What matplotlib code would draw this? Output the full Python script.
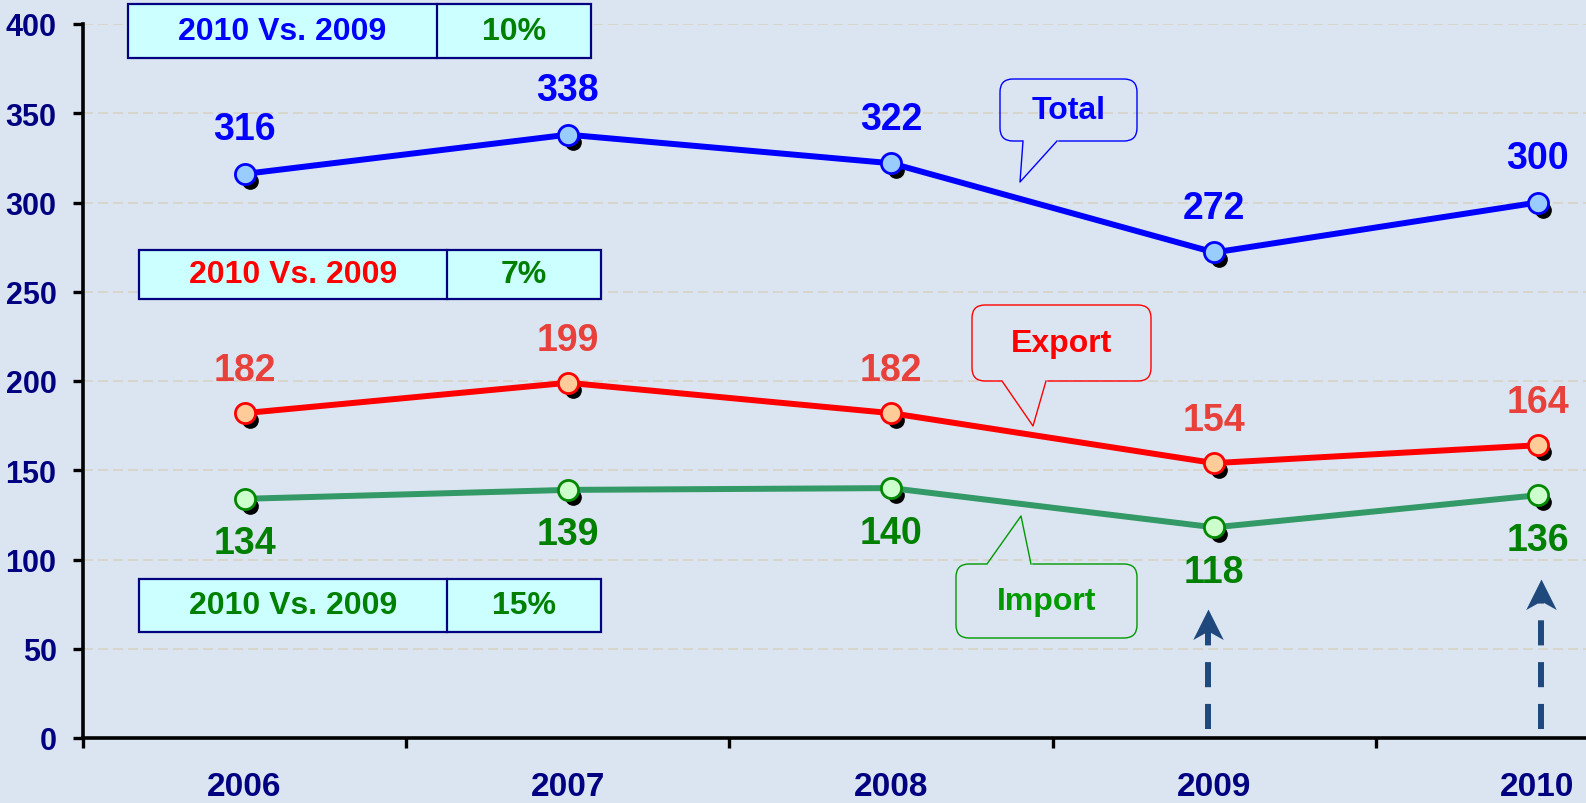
import numpy as np
import matplotlib
matplotlib.use("Agg")
import matplotlib.pyplot as plt
from matplotlib.patches import FancyBboxPatch, Rectangle
from matplotlib.lines import Line2D
from matplotlib.path import Path
import matplotlib.transforms as mtransforms

plt.rcParams['font.family'] = ['Liberation Sans', 'DejaVu Sans']

# data
years = ['2006', '2007', '2008', '2009', '2010']
total = [316, 338, 322, 272, 300]
export = [182, 199, 182, 154, 164]
imports = [134, 139, 140, 118, 136]
changes = [('2010 Vs. 2009', '10%'), ('2010 Vs. 2009', '7%'), ('2010 Vs. 2009', '15%')]

W, H = 1586, 804
bg = '#DBE5F1'
navy = '#000080'

fig = plt.figure(figsize=(W / 100, H / 100), dpi=100, facecolor=bg)
ax = fig.add_axes([83 / W, 1 - 739 / H, 1 - 83 / W, (739 - 25) / H])
ax.set_facecolor(bg)

x = np.arange(len(years))
ax.set_xlim(-0.5, 4.15)
ax.set_ylim(0, 400)

# grid
for v in range(50, 401, 50):
    ax.axhline(v, color='#D8D2C6', lw=1.2, ls=(0, (6, 3)), zorder=0)

series = [
    (total, '#0000FF', '#99CCFF', '#0000FF', '#0000FF', 32),
    (export, '#FF0000', '#FFCC99', '#FF0000', '#E8403A', 31),
    (imports, '#339966', '#CCFFCC', '#008800', '#008000', -32),
]
shadow = mtransforms.offset_copy(ax.transData, fig=fig, x=5, y=-7, units='dots')
for vals, lc, fc, ec, tc, off in series:
    ax.plot(x, vals, 'o', color='black', ms=11, transform=shadow, zorder=2)
    ax.plot(x, vals, '-', color=lc, lw=4.3, zorder=3)
    ax.plot(x, vals, 'o', ms=14.5, mfc=fc, mec=ec, mew=2.0, zorder=4, ls='none')
    for xi, v in zip(x, vals):
        ax.annotate(str(v), (xi, v), xytext=(0, off), textcoords='offset points',
                    ha='center', va='center', fontsize=27, fontweight='bold', color=tc,
                    zorder=5)

# axes styling
for s in ['top', 'right']:
    ax.spines[s].set_visible(False)
for s in ['left', 'bottom']:
    ax.spines[s].set_linewidth(2.6)
    ax.spines[s].set_color('black')
ax.set_yticks(range(0, 401, 50))
ax.tick_params(axis='y', direction='out', length=7, width=2.4, pad=12,
               labelsize=22, labelcolor=navy)
ax.set_xticks(np.arange(-0.5, 4.0, 1.0))
ax.set_xticklabels([])
ax.tick_params(axis='x', which='major', direction='out', length=7, width=2.4)
ax.set_xticks(x, minor=True)
ax.set_xticklabels(years, minor=True)
ax.tick_params(axis='x', which='minor', length=0, pad=24, labelsize=24, labelcolor=navy)
for lab in ax.get_yticklabels() + ax.get_xticklabels(minor=True):
    lab.set_fontweight('bold')

# dashed arrows with notched heads
head = Path([(0, 0), (0.5, -1), (0, -0.72), (-0.5, -1), (0, 0)],
            [Path.MOVETO, Path.LINETO, Path.LINETO, Path.LINETO, Path.CLOSEPOLY])
for xa, ytip in [(2.98, 72), (4.01, 89)]:
    ax.plot([xa, xa], [5, ytip - 12], color='#1F497D', lw=4.3,
            ls=(0, (4.2, 2.8)), solid_capstyle='butt', dash_capstyle='butt', zorder=6)
    ax.plot([xa], [ytip], marker=head, ms=44, color='#1F497D', mec='#1F497D', mew=0,
            zorder=6)

# pixel-based overlay (y from top), isotropic inches transform
T = fig.dpi_scale_trans
def P(px, py):
    return (px / 100, (H - py) / 100)

# comparison tables
tables = [
    (128, 5, 591, 59, 437, '#0000FF'),
    (139, 251, 601, 300, 447, '#FF0000'),
    (139, 580, 601, 633, 447, '#008000'),
]
for (x0, y0, x1, y1, xd, c1), (lab, pct) in zip(tables, changes):
    ll = P(x0, y1)
    fig.patches.append(Rectangle(ll, (x1 - x0) / 100, (y1 - y0) / 100, transform=T,
                                 facecolor='#CCFFFF', edgecolor=navy, lw=1.6))
    fig.lines.append(Line2D(*zip(P(xd, y0), P(xd, y1)), transform=T, color=navy, lw=1.6))
    ym = (y0 + y1) / 2
    fig.text(*P((x0 + xd) / 2, ym), lab, transform=T, ha='center', va='center',
             fontsize=23, fontweight='bold', color=c1)
    fig.text(*P((xd + x1) / 2, ym), pct, transform=T, ha='center', va='center',
             fontsize=23, fontweight='bold', color='#008000')

# callouts: box, tail base on edge, tip
callouts = [
    ('Total', '#0000FF', (1000, 80, 1137, 142), (1023, 1057, 142), (1020, 183)),
    ('Export', '#FF0000', (972, 306, 1151, 382), (1002, 1046, 382), (1033, 427)),
    ('Import', '#009900', (956, 565, 1137, 639), (987, 1031, 565), (1021, 517)),
]
for name, col, (x0, y0, x1, y1), (b0, b1, yb), tip in callouts:
    fig.patches.append(FancyBboxPatch(P(x0, y1), (x1 - x0) / 100, (y1 - y0) / 100,
                                      boxstyle='round,pad=0,rounding_size=0.13',
                                      transform=T, facecolor='none', edgecolor=col, lw=1.0))
    fig.lines.append(Line2D(*zip(P(b0 + 1, yb), P(b1 - 1, yb)), transform=T, color=bg, lw=2.5))
    fig.lines.append(Line2D(*zip(P(b0, yb), P(*tip), P(b1, yb)), transform=T, color=col, lw=1.0))
    fig.text(*P((x0 + x1) / 2, (y0 + y1) / 2), name, transform=T, ha='center', va='center',
             fontsize=23, fontweight='bold', color=col)

fig.savefig('out.png', dpi=100, facecolor=bg)
